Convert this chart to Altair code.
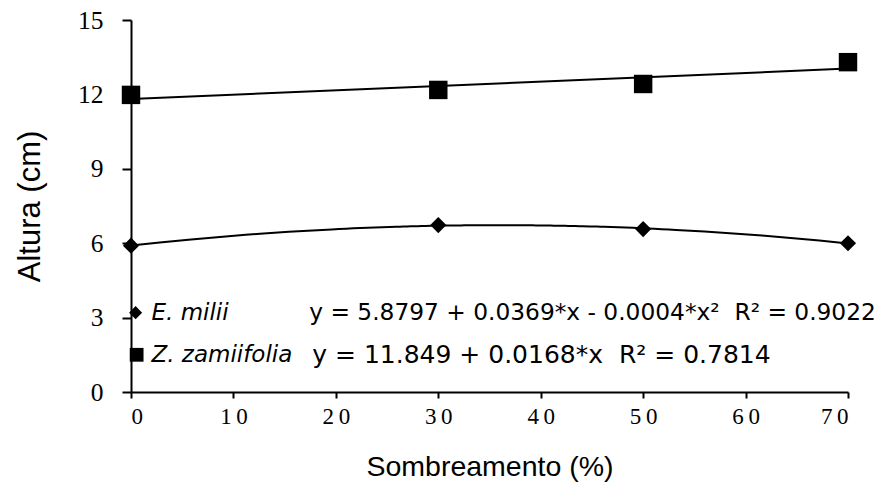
import altair as alt
import pandas as pd

# Data
shade = [0, 30, 50, 70]
e_milii = [5.90, 6.73, 6.57, 6.00]
z_zamiifolia = [11.98, 12.18, 12.42, 13.30]

y_ticks = [0, 3, 6, 9, 12, 15]
x_ticks = [0, 10, 20, 30, 40, 50, 60, 70]

NB = "\u00a0"
leg_species = ["E. milii", "Z. zamiifolia"]
leg_eq = ["y = 5.8797 + 0.0369*x - 0.0004*x\u00b2" + NB * 2 + "R\u00b2 = 0.9022",
          "y = 11.849 + 0.0168*x" + NB * 2 + "R\u00b2 = 0.7814"]
leg_y = [3.2, 1.5]

df_m = pd.DataFrame({"x": shade, "y": e_milii})
df_z = pd.DataFrame({"x": shade, "y": z_zamiifolia})
df_leg = pd.DataFrame({"species": leg_species, "eq": leg_eq, "y": leg_y,
                       "xs": [0.45, 0.55], "xn": [2.0, 2.0], "xe": [17.4, 17.7],
                       "shape": ["diamond", "square"], "size": [170, 190],
                       "fs": [23.3, 25]})

xs = alt.Scale(domain=[0, 70], nice=False)
ys = alt.Scale(domain=[0, 15], nice=False)

x_axis = alt.Axis(values=x_ticks, title="Sombreamento (%)", tickSize=6, labelPadding=7,
                  labelExpr="join(split(datum.label, ''), '\u2009')", labelFontSize=23,
                  titleX=358.5, titleY=74, titleBaseline="middle", titleAnchor="start",
                  titleAlign="center", titleFontSize=28.5)
y_axis = alt.Axis(values=y_ticks, title="Altura (cm)", tickSize=9, labelPadding=19,
                  labelFontSize=25.5,
                  titleX=-101, titleY=186, titleBaseline="middle", titleAlign="center",
                  titleAnchor="start", titleAngle=-90, titleFontSize=31)

X = alt.X("x:Q", scale=xs, axis=x_axis)
Y = alt.Y("y:Q", scale=ys, axis=y_axis)

pts_m = alt.Chart(df_m).mark_point(shape="diamond", filled=True, color="black",
                                   opacity=1, size=260).encode(x=X, y=Y)
pts_z = alt.Chart(df_z).mark_point(shape="square", filled=True, color="black",
                                   opacity=1, size=340).encode(x=X, y=Y)

fit_m = alt.Chart(df_m).transform_regression("x", "y", method="poly", order=2,
                                             extent=[0, 70]).mark_line(
    color="black", strokeWidth=2).encode(x=alt.X("x:Q", scale=xs), y=alt.Y("y:Q", scale=ys))
fit_z = alt.Chart(df_z).transform_regression("x", "y", method="linear",
                                             extent=[0, 70]).mark_line(
    color="black", strokeWidth=2).encode(x=alt.X("x:Q", scale=xs), y=alt.Y("y:Q", scale=ys))

leg_sym = alt.Chart(df_leg).mark_point(filled=True, color="black", opacity=1).encode(
    x=alt.X("xs:Q", scale=xs), y=alt.Y("y:Q", scale=ys),
    shape=alt.Shape("shape:N", scale=None), size=alt.Size("size:Q", scale=None))
leg_name = alt.Chart(df_leg).mark_text(align="left", baseline="middle", font="DejaVu Sans",
                                       fontStyle="italic", fontSize=23, color="black").encode(
    x=alt.X("xn:Q", scale=xs), y=alt.Y("y:Q", scale=ys), text="species:N")
leg_eqt = alt.Chart(df_leg).mark_text(align="left", baseline="middle", font="DejaVu Sans",
                                      color="black").encode(
    x=alt.X("xe:Q", scale=xs), y=alt.Y("y:Q", scale=ys), text="eq:N",
    size=alt.Size("fs:Q", scale=None))

chart = alt.layer(fit_m, fit_z, pts_m, pts_z, leg_sym, leg_name, leg_eqt).properties(
    width=717, height=372,
    autosize=alt.AutoSizeParams(type="none"),
    padding={"left": 131, "top": 20, "right": 40, "bottom": 92},
    background="white",
).configure_view(stroke=None).configure_axis(
    grid=False, domainColor="black", domainWidth=2, tickColor="black", tickWidth=2,
    labelFont="Liberation Serif", labelColor="black",
    titleFont="Liberation Sans", titleFontWeight="normal", titleColor="black",
)

chart.save("out.html", embed_options={"renderer": "svg", "actions": False})
